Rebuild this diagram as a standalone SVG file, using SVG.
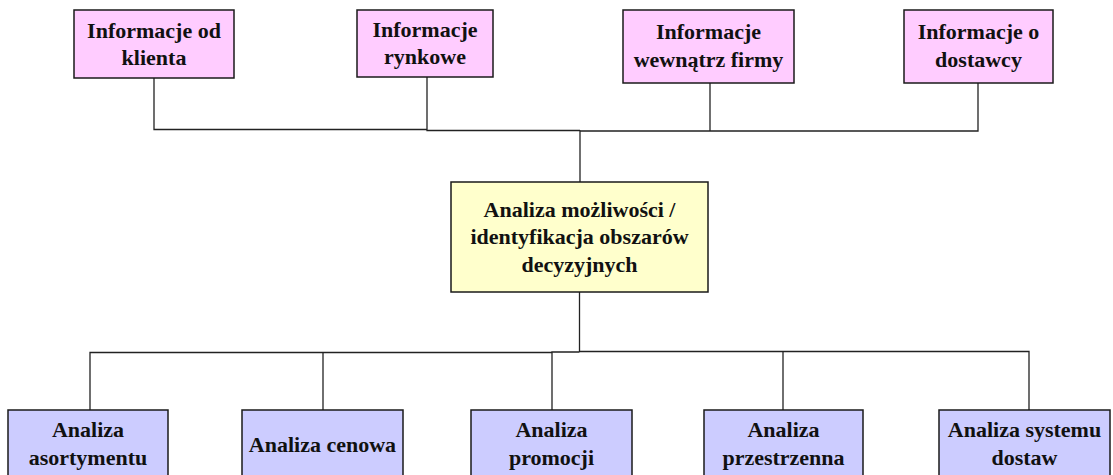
<svg xmlns="http://www.w3.org/2000/svg" width="1113" height="475" viewBox="0 0 1113 475">
<style>
.box{stroke:#1a1a1a;stroke-width:1.5}
.pink{fill:#FFCCFF}
.yel{fill:#FFFFCC}
.blue{fill:#CCCCFF}
text{font-family:"Liberation Serif","Times New Roman",serif;font-weight:bold;font-size:22px;fill:#111;text-anchor:middle}
.conn{fill:none;stroke:#222;stroke-width:1.3}
</style>
<rect width="1113" height="475" fill="#fff"/>
<g id="connectors" class="conn">
<path d="M154 78V129.5H427"/>
<path d="M427 77V130.5H580"/>
<path d="M580 131H978V83"/>
<path d="M710 83V131"/>
<path d="M580 130.5V182"/>
<path d="M579.5 292V352"/>
<path d="M90 410V352.5H552"/>
<path d="M323 352.5V410"/>
<path d="M552 410V352H579.5"/>
<path d="M579.5 351.5H1029V410"/>
<path d="M783 351.5V410"/>
</g>
<g id="n1"><rect class="box pink" x="74" y="10" width="160" height="68"/><text x="154" y="37.5">Informacje od</text><text x="154" y="65">klienta</text></g>
<g id="n2"><rect class="box pink" x="357" y="10" width="136" height="67"/><text x="425" y="37">Informacje</text><text x="425" y="64">rynkowe</text></g>
<g id="n3"><rect class="box pink" x="623" y="10" width="171" height="73"/><text x="708.5" y="39">Informacje</text><text x="708.5" y="67">wewnątrz firmy</text></g>
<g id="n4"><rect class="box pink" x="904" y="10" width="149" height="73"/><text x="978.5" y="39">Informacje o</text><text x="978.5" y="67">dostawcy</text></g>
<g id="center"><rect class="box yel" x="451" y="182" width="257" height="110"/><text x="579.5" y="216.5">Analiza możliwości /</text><text x="579.5" y="244">identyfikacja obszarów</text><text x="579.5" y="271.5">decyzyjnych</text></g>
<g id="b1"><rect class="box blue" x="8" y="410" width="160" height="80"/><text x="88" y="437">Analiza</text><text x="88" y="465">asortymentu</text></g>
<g id="b2"><rect class="box blue" x="242" y="410" width="161" height="80"/><text x="322.5" y="452">Analiza cenowa</text></g>
<g id="b3"><rect class="box blue" x="471" y="410" width="161" height="80"/><text x="551.5" y="437">Analiza</text><text x="551.5" y="465">promocji</text></g>
<g id="b4"><rect class="box blue" x="704" y="410" width="159" height="80"/><text x="783.5" y="437">Analiza</text><text x="783.5" y="465">przestrzenna</text></g>
<g id="b5"><rect class="box blue" x="939" y="410" width="171" height="80"/><text x="1024.5" y="437">Analiza systemu</text><text x="1024.5" y="465">dostaw</text></g>
</svg>
